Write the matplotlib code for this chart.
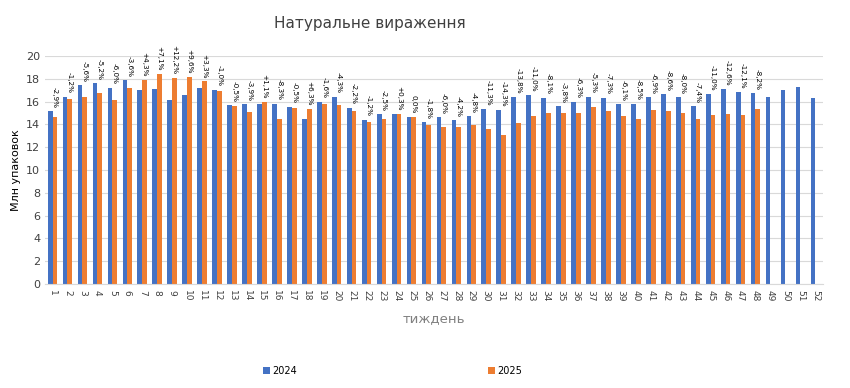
import matplotlib.pyplot as plt
import numpy

weeks = list(range(1, 53))

sales2024 = [15.15, 16.41, 17.44, 17.62, 17.2, 17.85, 17.03, 17.12, 16.09, 16.59,
             17.2, 17.03, 15.7, 15.76, 15.76, 15.82, 15.53, 14.5, 16.0, 16.41,
             15.44, 14.41, 14.88, 14.88, 14.65, 14.2, 14.61, 14.35, 14.7, 15.3,
             15.22, 16.41, 16.58, 16.32, 15.57, 16.0, 16.41, 16.32, 15.74, 15.82,
             16.38, 16.62, 16.38, 15.59, 16.62, 17.12, 16.85, 16.71, 16.38, 17.03,
             17.26, 16.29]

sales2025 = [14.65, 16.24, 16.41, 16.74, 16.09, 17.2, 17.85, 18.41, 18.09, 18.15,
             17.76, 16.88, 15.6, 15.12, 15.94, 14.5, 15.44, 15.38, 15.76, 15.7,
             15.15, 14.24, 14.5, 14.88, 14.65, 13.97, 13.74, 13.74, 13.97, 13.57,
             13.04, 14.14, 14.75, 14.99, 14.99, 14.99, 15.54, 15.16, 14.74, 14.47,
             15.26, 15.18, 15.03, 14.47, 14.79, 14.94, 14.79, 15.35]

change_labels = ["-2,9%", "-1,2%", "-5,6%", "-5,2%", "-6,0%", "-3,6%", "+4,3%", "+7,1%",
                 "+12,2%", "+9,6%", "+3,3%", "-1,0%", "-0,5%", "-3,9%", "+1,1%", "-8,3%",
                 "-0,5%", "+6,3%", "-1,6%", "-4,3%", "-2,2%", "-1,2%", "-2,5%", "+0,3%",
                 "0,0%", "-1,8%", "-6,0%", "-4,2%", "-4,8%", "-11,3%", "-14,3%", "-13,8%",
                 "-11,0%", "-8,1%", "-3,8%", "-6,3%", "-5,3%", "-7,3%", "-6,1%", "-8,5%",
                 "-6,9%", "-8,6%", "-8,0%", "-7,4%", "-11,0%", "-12,6%", "-12,1%", "-8,2%"]

fig = plt.figure(figsize=(8.5, 3.88), dpi=100)
ax = fig.add_axes([0.053, 0.268, 0.915, 0.588])

x = numpy.array(weeks)
w = 0.32
b1 = ax.bar(x - w / 2, sales2024, width=w, color="#4472C4", label="2024", zorder=2)
x2 = x[:len(sales2025)]
b2 = ax.bar(x2 + w / 2, sales2025, width=w, color="#ED7D31", label="2025", zorder=2)

# подписи изменения над столбцами
for i in range(len(sales2025)):
     top = max(sales2024[i], sales2025[i])
     ax.text(x2[i] + w / 2, top + 0.3, change_labels[i], rotation=-90,
             ha="center", va="bottom", fontsize=5.2, color="black")

ax.set_xlim(0.5, 52.5)
ax.set_ylim(0, 20)
ax.set_yticks(range(0, 21, 2))
ax.set_xticks(weeks)
ax.set_xticklabels([str(k) for k in weeks], rotation=-90, fontsize=6.5, color="#404040")
ax.tick_params(axis="y", labelsize=8, colors="#404040", length=0)
ax.tick_params(axis="x", length=0, pad=4)
ax.grid(axis="y", color="#D9D9D9", linewidth=0.8, zorder=0)
for s in ["top", "right", "left"]:
     ax.spines[s].set_visible(False)
ax.spines["bottom"].set_color("#D9D9D9")

ax.set_ylabel("Млн упаковок", fontsize=8, color="black")
ax.set_xlabel("тиждень", fontsize=9.5, color="#808080", labelpad=8)
fig.text(0.435, 0.94, "Натуральне вираження", ha="center", va="center", fontsize=11, color="#404040")

fig.legend(handles=[b1, b2], loc="center", bbox_to_anchor=(0.462, 0.045), ncol=2,
           frameon=False, fontsize=7, handlelength=0.7, handleheight=0.7,
           columnspacing=19.6, handletextpad=0.3)

plt.savefig("out.png", dpi=100)
